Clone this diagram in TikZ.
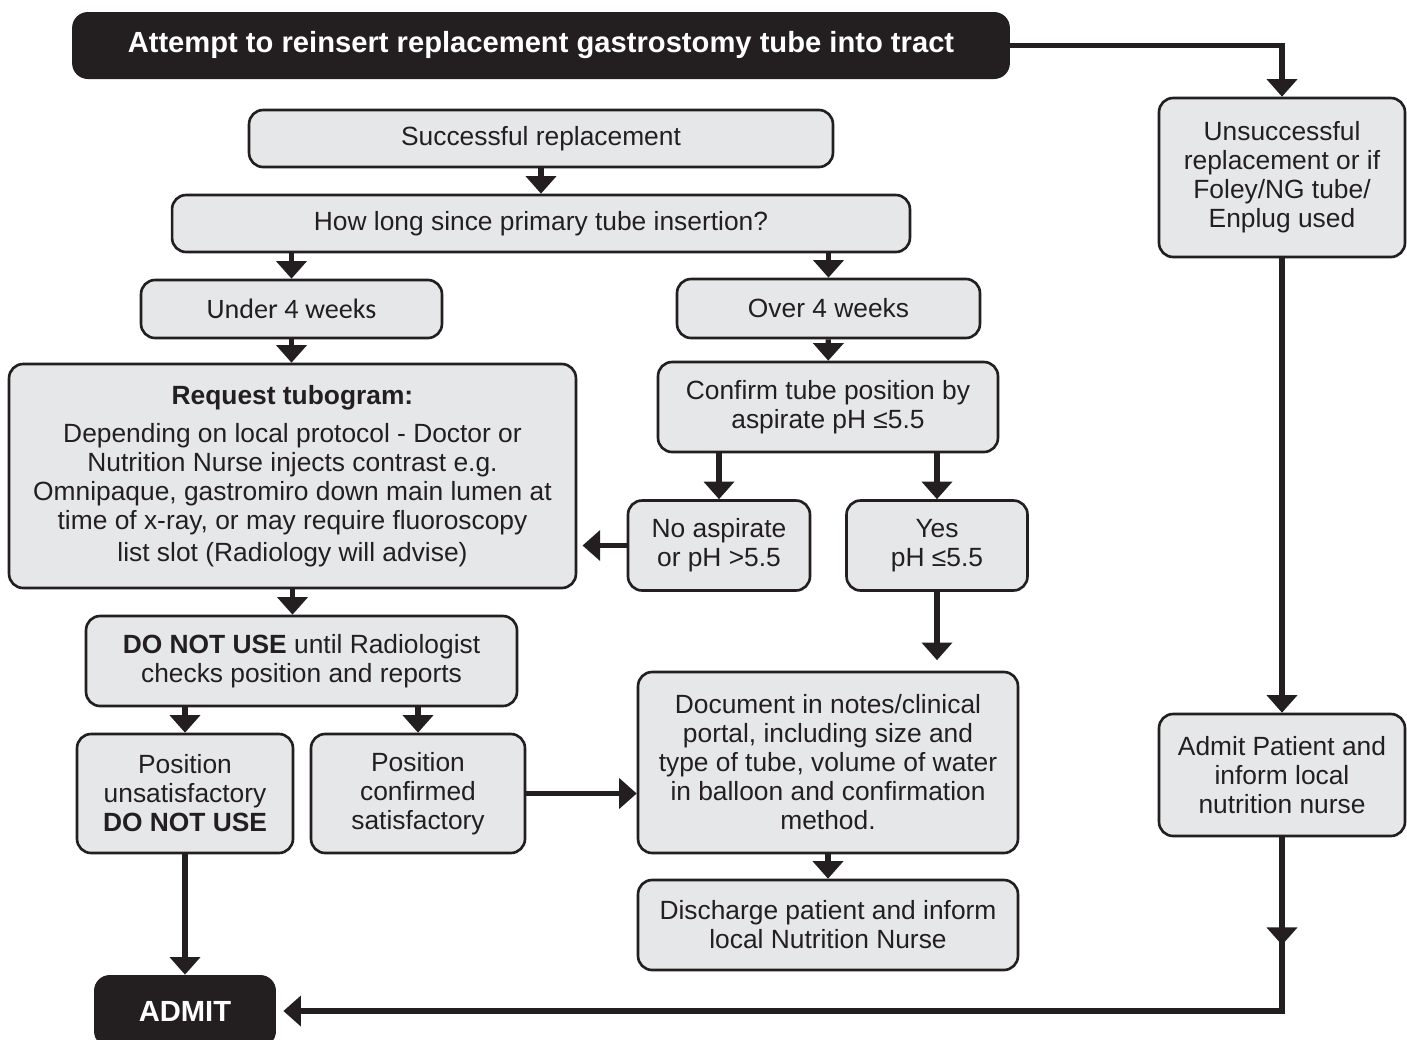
\documentclass[tikz,border=0pt]{standalone}
\usepackage{fontspec}
\setmainfont{Liberation Sans}
\newfontfamily\calibri{Carlito}
\usetikzlibrary{arrows.meta,calc}
\definecolor{boxgrey}{HTML}{E6E7E8}
\definecolor{ink}{HTML}{231F20}

\begin{document}
\begin{tikzpicture}[x=0.02cm,y=-0.02cm,
  box/.style={draw=ink,fill=boxgrey,line width=1.5pt,rounded corners=8pt,align=center,text=ink,inner sep=2pt,font=\fontsize{15}{16.5}\selectfont},
  blackbox/.style={fill=ink,rounded corners=9pt,text=white,inner sep=2pt,font=\bfseries\fontsize{16.6}{18}\selectfont},
  arr/.style={draw=ink,line width=3pt,-{Triangle[width=17pt,length=10pt]}},
  link/.style={draw=ink,line width=3pt}]
\useasboundingbox (0,0) rectangle (1407,1039);

\node[blackbox,minimum width=18.76cm,minimum height=1.34cm] (attempt) at (541,45.5) {Attempt to reinsert replacement gastrostomy tube into tract};
\node[box,minimum width=4.92cm,minimum height=3.18cm] (unsucc) at (1282,177.5) {Unsuccessful\\replacement or if\\Foley/NG tube/\\Enplug used};
\node[box,minimum width=11.68cm,minimum height=1.14cm] (succ) at (541,138.5) {Successful replacement};
\node[box,minimum width=14.76cm,minimum height=1.14cm] (howlong) at (541,223.5) {How long since primary tube insertion?};
\node[box,font=\calibri\fontsize{16}{18}\selectfont,minimum width=6.02cm,minimum height=1.16cm] (under) at (291.5,309) {Under 4 weeks};
\node[box,minimum width=6.06cm,minimum height=1.18cm] (over) at (828.5,308.5) {Over 4 weeks};
\node[box,minimum width=11.34cm,minimum height=4.48cm] (tubogram) at (292.5,476) {\textbf{Request tubogram:}\\[5.5pt]
  Depending on local protocol - Doctor or\\Nutrition Nurse injects contrast e.g.\\
  Omnipaque, gastromiro down main lumen at\\time of x-ray, or may require fluoroscopy\\[1.5pt]
  list slot (Radiology will advise)};
\node[box,minimum width=6.8cm,minimum height=1.8cm] (confirm) at (828,407) {Confirm tube position by\\aspirate pH ≤5.5};
\node[box,minimum width=3.64cm,minimum height=1.8cm] (noasp) at (719,545.5) {No aspirate\\or pH >5.5};
\node[box,minimum width=3.62cm,minimum height=1.8cm] (yes) at (937,545.5) {Yes\\pH ≤5.5};
\node[box,minimum width=8.62cm,minimum height=1.8cm] (donot) at (301.5,661) {\textbf{DO NOT USE} until Radiologist\\checks position and reports};
\node[box,minimum width=4.32cm,minimum height=2.38cm] (unsat) at (185,793.5) {Position\\unsatisfactory\\\textbf{DO NOT USE}};
\node[box,minimum width=4.28cm,minimum height=2.38cm] (satis) at (418,793.5) {Position\\confirmed\\satisfactory};
\node[box,minimum width=7.6cm,minimum height=3.62cm] (document) at (828,762.5) {Document in notes/clinical\\portal, including size and\\type of tube, volume of water\\in balloon and confirmation\\method.};
\node[box,minimum width=7.6cm,minimum height=1.8cm] (discharge) at (828,925) {Discharge patient and inform\\local Nutrition Nurse};
\node[box,minimum width=4.92cm,minimum height=2.44cm] (admitpat) at (1282,775) {Admit Patient and\\inform local\\nutrition nurse};
\node[blackbox,minimum width=3.64cm,minimum height=1.44cm] (admit) at (185,1011) {ADMIT};

% left column
\draw[arr] (attempt.east) -| (unsucc.north);
\draw[arr] (succ) -- (howlong);
\draw[arr] (under.north |- howlong.south) -- (under.north);
\draw[arr] (over.north |- howlong.south) -- (over.north);
\draw[arr] (under.south) -- (under.south |- tubogram.north);
\draw[arr] (over) -- (confirm);
\draw[arr] (noasp.north |- confirm.south) -- (noasp.north);
\draw[arr] (yes.north |- confirm.south) -- (yes.north);
\draw[arr,shorten >=3pt] (noasp.west) -- (noasp.west -| tubogram.east);
\draw[arr] (tubogram.south) -- (tubogram.south |- donot.north);
\draw[arr] (unsat.north |- donot.south) -- (unsat.north);
\draw[arr] (satis.north |- donot.south) -- (satis.north);
\draw[arr] (satis.east) -- (satis.east -| document.west);
\draw[arr,shorten >=6pt] (yes.south) -- (yes.south |- document.north);
\draw[arr] (document) -- (discharge);
\draw[arr] (unsat) -- (admit);

% right column
\draw[arr] (unsucc) -- (admitpat);
\coordinate (turn) at (admitpat.south |- admit.east);
\coordinate (mid) at ($(admitpat.south)!0.62!(turn)$);
\draw[arr,shorten >=4pt] (admitpat.south) -- (turn) -- (admit.east);
\draw[arr] (admitpat.south) -- (mid);
\end{tikzpicture}
\end{document}
